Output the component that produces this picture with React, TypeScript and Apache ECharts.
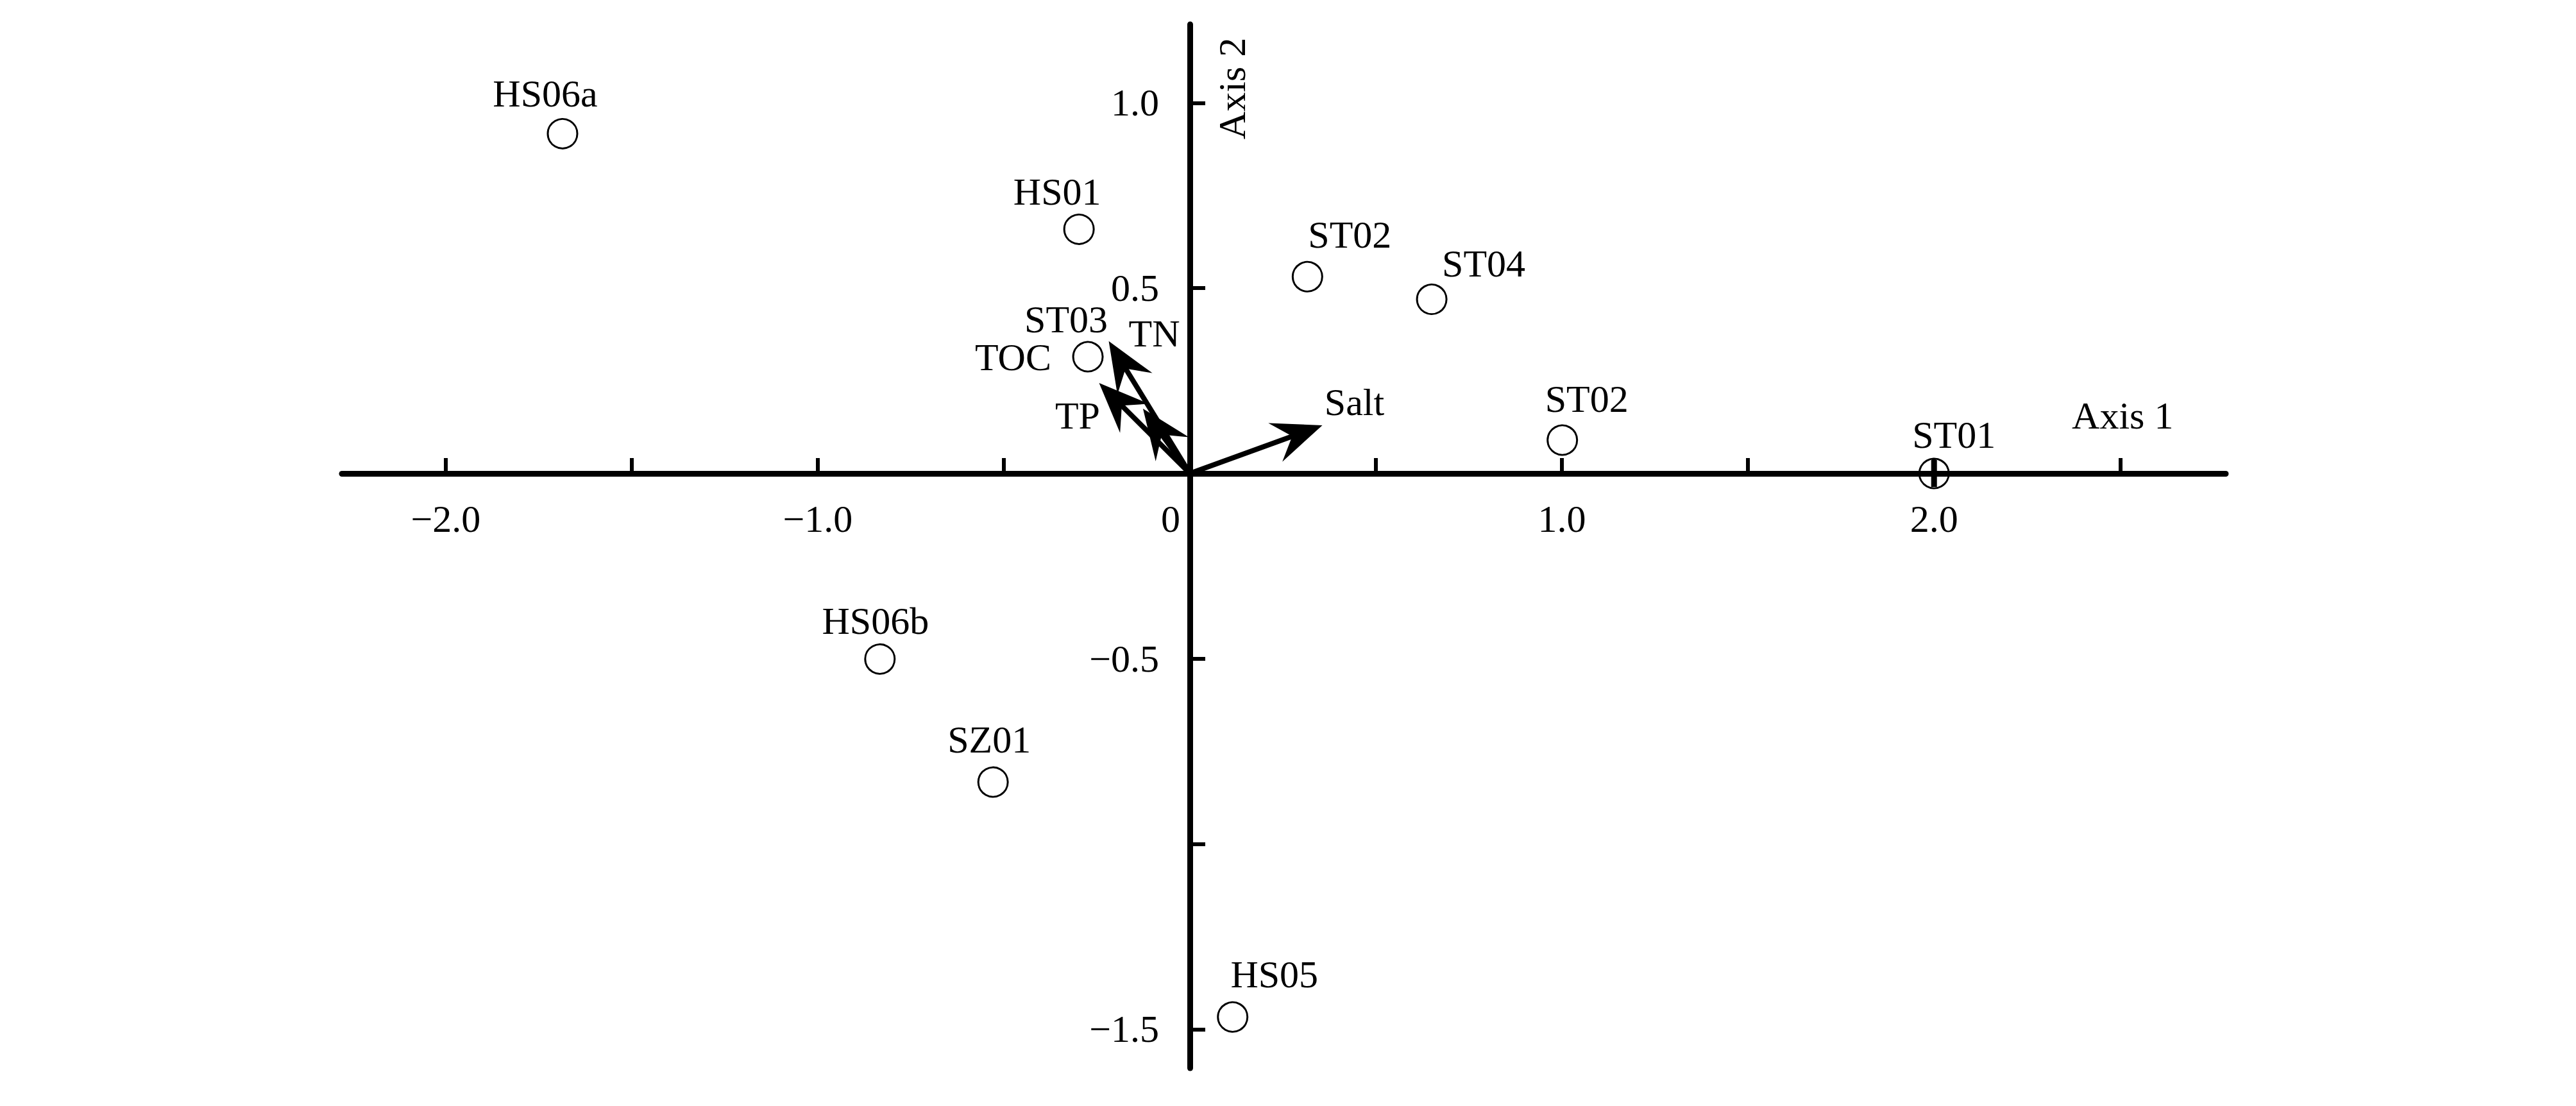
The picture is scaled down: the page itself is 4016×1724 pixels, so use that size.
import React, { useEffect, useRef } from "react";
import * as echarts from "echarts";

// Sites (sample scores)
const sites = ["HS06a", "HS01", "ST02", "ST04", "ST03", "ST02", "ST01", "HS06b", "SZ01", "HS05"];
const siteAxis1 = [-1.686, -0.298, 0.316, 0.65, -0.274, 1.001, 2.0, -0.833, -0.529, 0.115];
const siteAxis2 = [0.917, 0.659, 0.531, 0.47, 0.315, 0.09, 0.0, -0.501, -0.833, -1.467];

// Environmental vectors
const envVars = ["TN", "TOC", "TP", "Salt"];
const envAxis1 = [-0.218, -0.244, -0.126, 0.356];
const envAxis2 = [0.357, 0.244, 0.175, 0.13];

// Axis ticks / labels
const xTicks = [-2.0, -1.5, -1.0, -0.5, 0.5, 1.0, 1.5, 2.0, 2.5];
const xTickLabels = [-2.0, -1.0, 0, 1.0, 2.0];
const yTicks = [-1.5, -1.0, -0.5, 0.5, 1.0];
const yTickLabels = [-1.5, -0.5, 0.5, 1.0];
const axisNames = ["Axis 1", "Axis 2"];

// axis ranges
const X_MIN = -2.279;
const X_MAX = 2.784;
const Y_MIN = -1.605;
const Y_MAX = 1.212;

// label placement (pixels), kept apart from the data
const siteLabelShift: [number, number][] = [
  [-27, -62], [-34, -58], [66, -65], [81, -56], [-34, -58],
  [38, -64], [31, -60], [-7, -59], [-6, -66], [65, -66],
];
const envLabelShift: [number, number][] = [
  [71, -12], [-134, -40], [-102, 11], [50, -36],
];

const FONT = "'Liberation Serif', 'Times New Roman', serif";
const FS = 60;
const W = 4016;
const H = 1724;
const GRID = { left: 533, right: 546, top: 38, bottom: 59 };

function fmt(v: number): string {
  if (v === 0) return "{z|0}";
  const s = Math.abs(v).toFixed(1);
  return v < 0 ? "\u2212" + s : s;
}

export default function App() {
  const ref = useRef<HTMLDivElement>(null);
  useEffect(() => {
    if (!ref.current) return;
    const chart = echarts.init(ref.current, null, { renderer: "svg" });
    const gridW = W - GRID.left - GRID.right;
    const gridH = H - GRID.top - GRID.bottom;
    // move axes so that they cross at the origin
    const xAxisOffset = -(gridH * (0 - Y_MIN)) / (Y_MAX - Y_MIN);
    const yAxisOffset = -(gridW * (0 - X_MIN)) / (X_MAX - X_MIN);

    const siteData = sites.map((n, i) => ({
      name: n,
      value: [siteAxis1[i], siteAxis2[i]],
      label: { offset: siteLabelShift[i] },
    }));
    const st01 = sites
      .map((n, i) => ({ n, v: [siteAxis1[i], siteAxis2[i]] }))
      .filter((d) => d.n === "ST01")
      .map((d) => d.v);
    const envData = envVars.map((n, i) => [envAxis1[i], envAxis2[i]]);

    const tickStyle = { color: "#000", width: 6 };
    const option: any = {
      animation: false,
      backgroundColor: "#ffffff",
      textStyle: { fontFamily: FONT },
      grid: { ...GRID, containLabel: false },
      xAxis: {
        type: "value",
        min: X_MIN,
        max: X_MAX,
        position: "bottom",
        offset: xAxisOffset,
        splitLine: { show: false },
        axisLine: { show: true, onZero: false, lineStyle: { color: "#000", width: 9 } },
        axisTick: { show: true, inside: true, length: 24, lineStyle: tickStyle, customValues: xTicks },
        axisLabel: {
          customValues: xTickLabels,
          margin: 41,
          color: "#000",
          fontSize: FS,
          fontFamily: FONT,
          formatter: (v: number) => fmt(v),
          rich: { z: { fontSize: FS, fontFamily: FONT, color: "#000", padding: [0, 60, 0, 0] } },
        },
      },
      yAxis: {
        type: "value",
        min: Y_MIN,
        max: Y_MAX,
        position: "left",
        offset: yAxisOffset,
        splitLine: { show: false },
        axisLine: { show: true, onZero: false, lineStyle: { color: "#000", width: 9 } },
        axisTick: { show: true, inside: true, length: 24, lineStyle: tickStyle, customValues: yTicks },
        axisLabel: {
          customValues: yTickLabels,
          margin: 48,
          color: "#000",
          fontSize: FS,
          fontFamily: FONT,
          formatter: (v: number) => fmt(v),
        },
      },
      series: [
        {
          type: "custom",
          name: "env",
          coordinateSystem: "cartesian2d",
          data: envData,
          encode: { x: 0, y: 1 },
          z: 5,
          renderItem: (params: any, api: any) => {
            const vx = api.value(0);
            const vy = api.value(1);
            const o = api.coord([0, 0]);
            const t = api.coord([vx, vy]);
            const dx = t[0] - o[0];
            const dy = t[1] - o[1];
            const L = Math.hypot(dx, dy);
            const ux = dx / L;
            const uy = dy / L;
            const nx = -uy;
            const ny = ux;
            const headLen = 78;
            const headW = 32;
            const notch = 50;
            const bx = t[0] - ux * headLen;
            const by = t[1] - uy * headLen;
            const name = envVars[params.dataIndex];
            const off = envLabelShift[params.dataIndex];
            return {
              type: "group",
              children: [
                {
                  type: "line",
                  shape: { x1: o[0], y1: o[1], x2: t[0] - ux * (notch - 4), y2: t[1] - uy * (notch - 4) },
                  style: { stroke: "#000", lineWidth: 8 },
                },
                {
                  type: "polygon",
                  shape: {
                    points: [
                      [t[0], t[1]],
                      [bx + nx * headW, by + ny * headW],
                      [t[0] - ux * notch, t[1] - uy * notch],
                      [bx - nx * headW, by - ny * headW],
                    ],
                  },
                  style: { fill: "#000" },
                },
                {
                  type: "text",
                  x: t[0] + off[0],
                  y: t[1] + off[1],
                  style: {
                    text: name,
                    fontSize: FS,
                    fontFamily: FONT,
                    fill: "#000",
                    align: "center",
                    verticalAlign: "middle",
                  },
                },
              ],
            };
          },
        },
        {
          type: "custom",
          name: "axisNames",
          coordinateSystem: "cartesian2d",
          data: [
            [2.5, 0],
            [0, Y_MAX],
          ],
          encode: { x: 0, y: 1 },
          silent: true,
          z: 4,
          renderItem: (params: any, api: any) => {
            const p = api.coord([api.value(0), api.value(1)]);
            const i = params.dataIndex;
            if (i === 0) {
              return {
                type: "text",
                x: p[0] + 4,
                y: p[1] - 90,
                style: {
                  text: axisNames[0],
                  fontSize: FS,
                  fontFamily: FONT,
                  fill: "#000",
                  align: "center",
                  verticalAlign: "middle",
                },
              };
            }
            return {
              type: "text",
              x: p[0] + 66,
              y: p[1] + 100,
              rotation: Math.PI / 2,
              style: {
                text: axisNames[1],
                fontSize: FS,
                fontFamily: FONT,
                fill: "#000",
                align: "center",
                verticalAlign: "middle",
              },
            };
          },
        },
        {
          type: "scatter",
          name: "sites",
          data: siteData,
          symbol: "circle",
          symbolSize: 46,
          z: 6,
          itemStyle: { color: "rgba(255,255,255,0)", borderColor: "#000", borderWidth: 3, opacity: 1 },
          label: {
            show: true,
            position: "inside",
            formatter: (p: any) => p.name,
            fontSize: FS,
            fontFamily: FONT,
            color: "#000",
            opacity: 1,
            textBorderWidth: 0,
            textBorderColor: "transparent",
          },
        },
        {
          type: "scatter",
          name: "st01bar",
          data: st01,
          symbol: "rect",
          symbolSize: [9, 42],
          z: 7,
          itemStyle: { color: "#000", opacity: 1 },
          silent: true,
        },
      ],
    };
    chart.setOption(option);
    return () => chart.dispose();
  }, []);
  return (
    <div
      ref={ref}
      style={{ position: "fixed", left: 0, top: 0, width: W, height: H, background: "#fff" }}
    />
  );
}
